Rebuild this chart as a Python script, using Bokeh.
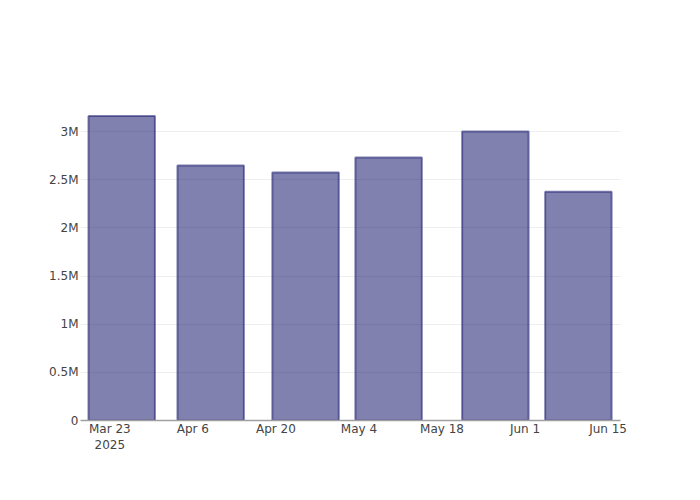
from datetime import datetime, timezone
from bokeh.plotting import figure
from bokeh.models import Range1d, FixedTicker
from bokeh.embed import file_html
from bokeh.resources import INLINE

# ---- data ----
bar_dates = ["2025-03-25", "2025-04-09", "2025-04-25", "2025-05-09", "2025-05-27", "2025-06-10"]
bar_values = [3160000, 2647000, 2575000, 2730000, 3000000, 2375000]

x_tick_dates = ["2025-03-23", "2025-04-06", "2025-04-20", "2025-05-04", "2025-05-18", "2025-06-01", "2025-06-15"]
x_tick_labels = ["Mar 23\n2025", "Apr 6", "Apr 20", "May 4", "May 18", "Jun 1", "Jun 15"]

y_tick_values = [0, 500000, 1000000, 1500000, 2000000, 2500000, 3000000]
y_tick_labels = ["0", "0.5M", "1M", "1.5M", "2M", "2.5M", "3M"]

DAY_MS = 86400000.0


def to_ms(s):
    return datetime.strptime(s, "%Y-%m-%d").replace(tzinfo=timezone.utc).timestamp() * 1000.0


bar_x = [to_ms(d) for d in bar_dates]
x_ticks = [to_ms(d) for d in x_tick_dates]

x_start = to_ms("2025-03-18") + 0.05 * DAY_MS
x_end = to_ms("2025-06-17") + 0.1 * DAY_MS

p = figure(
    width=690, height=490,
    x_axis_type="datetime",
    output_backend="svg", toolbar_location=None,
    x_range=Range1d(x_start, x_end),
    y_range=Range1d(0, 3322000),
    min_border_left=80, min_border_right=70,
    min_border_top=100, min_border_bottom=70,
)

p.vbar(x=bar_x, top=bar_values, bottom=0, width=11.2 * DAY_MS,
       fill_color="midnightblue", fill_alpha=0.55,
       line_color="midnightblue", line_alpha=0.55, line_width=2)

p.outline_line_color = None
p.background_fill_color = "white"
p.border_fill_color = "white"

p.xgrid.grid_line_color = None
p.ygrid.grid_line_color = "#eeeeee"
p.ygrid.grid_line_width = 1

xa = p.xaxis[0]
xa.ticker = FixedTicker(ticks=x_ticks)
xa.major_label_overrides = {t: l for t, l in zip(x_ticks, x_tick_labels)}
xa.major_tick_line_color = None
xa.major_tick_out = 0
xa.major_tick_in = 0
xa.minor_tick_line_color = None
xa.minor_tick_out = 0
xa.axis_line_color = "#a0a0a0"
xa.axis_line_width = 1.5
xa.major_label_text_font = "DejaVu Sans"
xa.major_label_text_font_size = "12px"
xa.major_label_text_color = "#444444"
xa.major_label_standoff = 1

ya = p.yaxis[0]
ya.ticker = FixedTicker(ticks=y_tick_values)
ya.major_label_overrides = {v: l for v, l in zip(y_tick_values, y_tick_labels)}
ya.major_tick_line_color = None
ya.major_tick_out = 0
ya.major_tick_in = 0
ya.minor_tick_line_color = None
ya.minor_tick_out = 0
ya.axis_line_color = None
ya.major_label_text_font = "DejaVu Sans"
ya.major_label_text_font_size = "12px"
ya.major_label_text_color = "#444444"
ya.major_label_standoff = 2

open("out.html", "w").write(file_html(p, INLINE))
